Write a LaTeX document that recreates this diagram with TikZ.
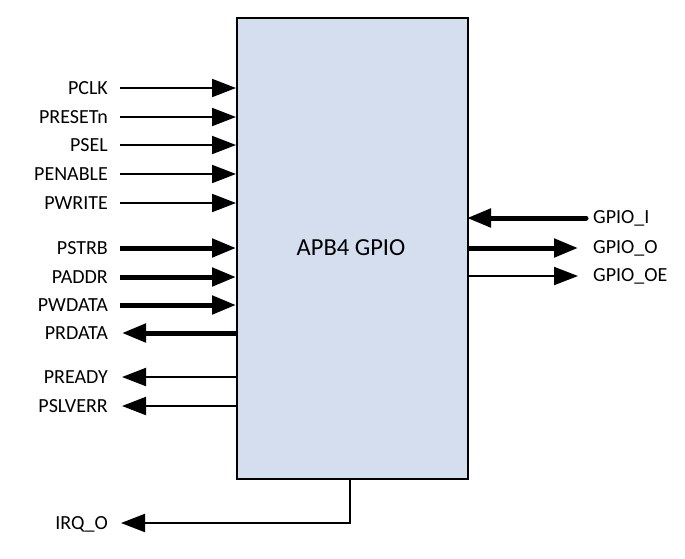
\documentclass[tikz,border=0pt]{standalone}
\usepackage{fontspec}
\setmainfont{Carlito}
\usetikzlibrary{arrows.meta}
\definecolor{boxfill}{HTML}{D4DEEF}
\begin{document}
\begin{tikzpicture}[x=1pt,y=-1pt,
  sig/.style={font=\fontsize{20}{24}\selectfont, inner sep=0pt},
  thin/.style={line width=2pt, -{Triangle[length=24pt,width=18pt]}},
  thick/.style={line width=5pt, -{Triangle[length=24pt,width=18pt]}},
]
\useasboundingbox (0,0) rectangle (685,558);
\node[draw=black, line width=2pt, fill=boxfill, minimum width=231pt, minimum height=461pt, anchor=north west, inner sep=0pt] (blk) at (236,17) {};
\node[font=\fontsize{24.5}{28}\selectfont, inner sep=0pt] (title) at (351,248) {APB4 GPIO};
% left inputs
\foreach \n/\t/\y/\s in {pclk/PCLK/88/thin, prst/PRESETn/117/thin, psel/PSEL/145/thin, pen/PENABLE/174/thin, pwr/PWRITE/203/thin, pstrb/PSTRB/248/thick, paddr/PADDR/277/thick, pwd/PWDATA/305/thick}{
  \node[sig, anchor=east] (\n) at (108,\y) {\t};
  \coordinate (\n s) at (120,\y);
  \coordinate (\n e) at (236,\y);
  \draw[\s] (\n s) -- (\n e);
}
% left outputs
\foreach \n/\t/\y/\s in {prd/PRDATA/333/thick, prdy/PREADY/377/thin, perr/PSLVERR/406/thin}{
  \node[sig, anchor=east] (\n) at (108,\y) {\t};
  \coordinate (\n s) at (236,\y);
  \coordinate (\n e) at (122,\y);
  \draw[\s] (\n s) -- (\n e);
}
% right side
\node[sig, anchor=west] (gi) at (593,218) {GPIO\_I};
\node[sig, anchor=west] (go) at (593,248) {GPIO\_O};
\node[sig, anchor=west] (goe) at (593,276) {GPIO\_OE};
\coordinate (gis) at (586,218);
\coordinate (gie) at (467,218);
\draw[thick, line cap=round] (gis) -- (gie);
\coordinate (gos) at (467,248);
\coordinate (goe2) at (578,248);
\draw[thick] (gos) -- (goe2);
\coordinate (goes) at (467,276);
\coordinate (goee) at (578,276);
\draw[thin] (goes) -- (goee);
% IRQ
\node[sig, anchor=east] (irq) at (108,524) {IRQ\_O};
\coordinate (irqa) at (350,478);
\coordinate (irqb) at (350,523);
\coordinate (irqc) at (121,523);
\draw[thin] (irqa) -- (irqb) -- (irqc);
\end{tikzpicture}
\end{document}
